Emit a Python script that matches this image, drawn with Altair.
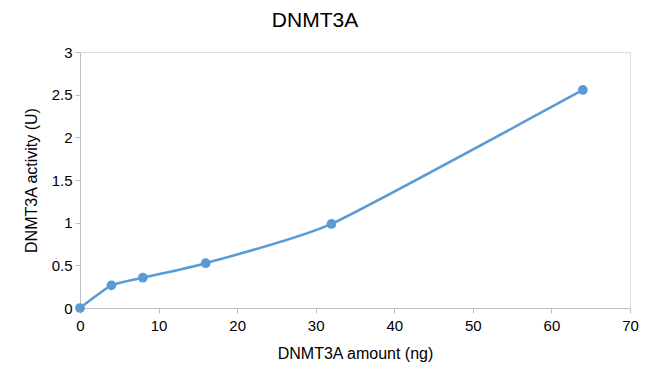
import altair as alt
import pandas as pd

amount = [0, 4, 8, 16, 32, 64]
activity = [0.0, 0.265, 0.355, 0.525, 0.985, 2.555]

df = pd.DataFrame({"amount": amount, "activity": activity})

color = "#5B9BD5"
font = "Liberation Sans"

base = alt.Chart(df).encode(
    x=alt.X("amount:Q", title="DNMT3A amount (ng)",
            scale=alt.Scale(domain=[0, 70], nice=False),
            axis=alt.Axis(values=[0, 10, 20, 30, 40, 50, 60, 70], grid=False, format="d",
                          labelFlush=False,
                          domainColor="#BFBFBF", tickColor="#BFBFBF", tickSize=5,
                          labelFont=font, labelFontSize=15, labelColor="#000000",
                          labelPadding=5, titleFont=font, titleFontSize=16,
                          titleFontWeight="normal", titleColor="#000000", titlePadding=12)),
    y=alt.Y("activity:Q", title="DNMT3A activity (U)",
            scale=alt.Scale(domain=[0, 3], nice=False),
            axis=alt.Axis(values=[0, 0.5, 1, 1.5, 2, 2.5, 3], grid=False, format="~g",
                          labelFlush=False,
                          domainColor="#BFBFBF", tickColor="#BFBFBF", tickSize=5,
                          labelFont=font, labelFontSize=15, labelColor="#000000",
                          labelPadding=3, titleFont=font, titleFontSize=16,
                          titleFontWeight="normal", titleColor="#000000", titlePadding=12)),
)

line = base.mark_line(color=color, strokeWidth=2.5, interpolate="cardinal", tension=0.5)
points = base.mark_point(color=color, filled=True, opacity=1, size=95)

chart = (line + points).properties(
    width=550,
    height=256,
    autosize=alt.AutoSizeParams(type="none"),
    padding={"left": 72, "top": 44, "right": 19, "bottom": 57},
    title=alt.TitleParams("DNMT3A", font=font, fontSize=21, fontWeight="normal",
                          color="#000000", anchor="middle", dx=-40, offset=14),
).configure_view(stroke=None).configure(background="white")

chart.save("out.html", embed_options={"renderer": "svg", "actions": False})
